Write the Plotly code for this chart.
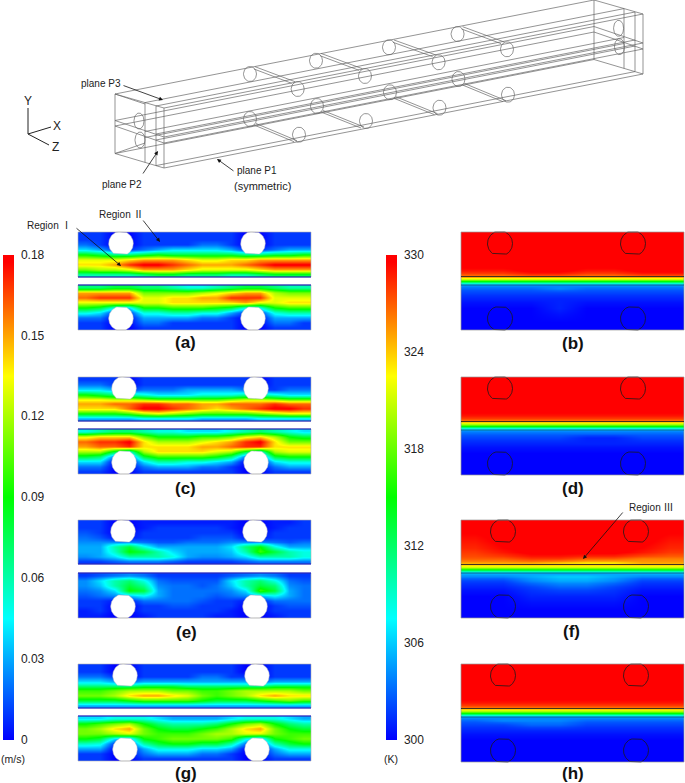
import numpy as np
import plotly.graph_objects as go

# ---- velocity fields, cm/s (rows top to bottom, 16 columns)
a_up = [[1,1,0,0,1,1,1,1,1,1,1,0,0,1,1,1],[1,1,0,0,1,1,1,1,1,1,1,0,0,1,1,1],[2,1,0,0,1,1,1,1,2,2,1,0,0,1,1,1],
        [4,3,1,1,2,3,4,4,4,4,3,1,1,2,3,3],[9,8,7,7,8,9,8,8,8,8,8,7,7,8,8,9],[13,13,13,14,15,15,15,14,13,13,14,14,15,15,15,15],
        [14,14,15,17,18,18,17,16,15,15,15,16,17,18,18,18],[11,12,12,13,15,15,15,14,13,13,13,13,14,15,15,15],[6,6,6,6,7,8,8,7,7,7,6,6,7,8,8,8]]
a_lo = [[7,7,8,8,7,7,6,5,5,6,7,8,8,7,6,6],[15,15,15,15,11,11,11,11,12,13,14,15,15,12,11,11],[16,17,17,17,13,13,14,14,15,15,17,17,17,13,13,13],
        [13,13,13,13,13,13,14,14,14,14,14,15,13,13,14,14],[9,8,5,4,9,9,10,10,10,9,8,5,5,9,10,10],[5,4,1,1,5,5,6,6,5,5,3,1,1,5,6,6],
        [2,2,0,0,3,3,3,3,2,2,1,0,0,3,3,3],[1,1,0,0,2,2,1,1,1,1,1,0,0,2,2,1],[1,1,0,0,1,1,1,1,1,1,1,0,0,1,1,1]]
c_up = [[1,1,1,0,1,1,1,1,1,1,1,1,0,1,1,1],[2,2,1,0,1,1,1,1,1,1,1,1,0,1,1,1],[4,4,3,1,2,2,2,3,3,3,3,2,1,1,2,2],
        [9,8,7,6,5,4,4,4,5,5,5,6,6,5,4,4],[13,13,12,12,11,10,10,10,10,10,11,12,12,11,10,10],[15,15,16,16,17,17,16,16,15,15,16,16,16,17,16,16],
        [14,14,14,16,18,18,17,16,15,14,15,16,17,18,18,17],[9,9,9,10,12,13,12,11,10,10,10,10,11,12,13,13],[3,3,3,3,4,4,4,4,3,3,3,3,4,4,4,4]]
c_lo = [[5,6,7,7,6,5,5,4,4,4,5,6,7,6,5,4],[13,14,14,14,11,9,9,9,10,10,11,13,14,12,9,8],[16,17,17,18,14,12,12,12,13,14,15,17,18,14,11,11],
        [15,16,16,17,14,14,14,14,15,15,16,17,17,14,14,14],[12,12,8,5,12,14,14,14,14,13,12,8,5,12,13,13],[8,7,2,1,8,10,10,10,10,9,7,2,1,8,9,9],
        [4,4,0,0,4,6,6,5,5,4,3,0,0,4,5,5],[2,2,0,0,2,3,3,3,2,2,1,0,0,2,3,3],[1,1,0,0,1,1,1,1,1,1,1,0,0,1,1,1]]
e_up = [[1,1,0,0,.5,.5,.5,.5,.5,.5,.5,0,0,.5,.5,1],[1,1,0,0,.5,1,1,1,1,1,.5,0,0,.5,1,1],[1.5,1,0,0,1,1,1,1,1,1,1,0,0,1,1,1],
        [2,1.5,.5,.5,1,1,1,1,1.5,1.5,1.5,.5,.5,1,1,1],[2.5,2.5,2.5,2.5,2,1.5,1.5,2,2,2,2.5,2.5,2.5,2,1.5,2],[3,3,6,8,5,3,3,3,3,3,4,7,9,5,3,3],
        [3,3,5.5,9,8,6,4,3,3,3,3.5,6,10,8,6,5],[2.5,3,4,6,6,6,5,3,2.5,2.5,3,4,6,6,6,5],[1,1,1.5,2,2,2,1.5,1,1,1,1,1.5,2,2,2,2]]
e_lo = [[1,1.5,2,2.5,2,1,1,1,1,1,1.5,2,2.5,2,1,1],[2.5,4,6,7,5,2,1.5,1.5,1.5,1.5,4,6,7,5,2,1.5],[2.5,3.5,6,8,6.5,2.5,2,2,1.5,2,3.5,6,8,7,2.5,2],
        [2,2.5,4,9,8,3,2,2,2,2,2.5,4,10,8,3,2],[1.5,2,2.5,3.5,4.5,3,2,2,2,1.5,2,2.5,3.5,4.5,3,2],[1,1,.5,.5,2,2,2,2,1.5,1,1,.5,.5,2,2,2],
        [1,1,0,0,1,1,1.5,1.5,1,1,1,0,0,1,1.5,1.5],[.5,1,0,0,1,1,1,1,1,1,.5,0,0,1,1,1],[.5,.5,0,0,.5,1,1,1,1,.5,.5,0,0,.5,1,1]]
g_up = [[1,1,0,0,1,1,1,1,1,1,1,0,0,1,1,1],[1,1,0,0,1,1,1,1,1,1,1,0,0,1,1,1],[2,2,1,0,1,1,1,1,2,2,1,1,0,1,1,1],
        [4,4,3,2,3,3,3,3,3,3,3,3,2,3,3,3],[7,7,7,7,8,8,8,7,7,7,7,7,7,8,8,8],[10,10,11,12,12,12,11,11,10,10,11,12,12,12,12,11],
        [11,11,12,14,15,15,14,13,11,10,11,12,14,15,14,14],[8,8,8,9,10,10,10,10,9,8,8,8,9,10,11,10],[3,3,3,3,3,3,3,3,3,3,3,3,3,3,3,3]]
g_lo = [[4,4,5,5,5,4,3,3,3,3,4,5,5,5,4,3],[9,10,11,12,9,7,6,6,6,7,9,11,12,9,7,6],[11,12,14,15,11,9,8,8,9,10,12,14,15,11,9,8],
        [11,11,12,13,11,10,10,10,11,12,12,13,13,11,10,10],[9,8,4,3,9,10,11,11,11,11,10,5,3,9,10,11],[5.5,5,1,1,6,8,9,9,8,8,6,2,1,6,8,9],
        [3,3,0,0,3,5,5,5,4,4,3,0,0,3,5,5],[1,1,0,0,2,3,3,3,2,2,1,0,0,2,3,3],[1,1,0,0,1,1,1,1,1,1,1,0,0,1,1,1]]

# ---- temperature fields, K (rows top to bottom, 8 columns)
b_T = [[330]*8,[330]*8,[330]*8,[329,329,330,330,329,329,330,330],[327,327,328,328,327,327,328,328],[326]*8,[324]*8,[321]*8,[315]*8,[309]*8,
       [305]*8,[304]*8,[303,303,303,304,303,303,303,303],[302,302,302,302,302,302,302,302],[301]*8,[300,300,300,301,300,300,300,300],[300]*8]
d_T = [[330]*8,[330]*8,[330]*8,[329,329,329,329,329,329,329,329],[327,327,327,327,327,327,327,327],[325]*8,[323]*8,[320]*8,[315]*8,[309]*8,
       [306]*8,[304]*8,[303,303,303,303,303,303,303,303],[302,302,302,302,301,301,302,302],[301,301,301,301,301,301,301,301],[300,300,300,300,300,300,300,300],[300]*8]
f_T = [[330]*8,[329,330,330,330,330,330,330,329],[328,329,330,330,330,330,329,328],[327,327,328,328,327,327,326,326],[325,325,325,324,323,323,325,325],
       [324]*8,[323]*8,[321]*8,[316]*8,[310]*8,[306]*8,[305]*8,[304,304,305,306,306,305,304,304],[302,302,304,305,305,304,302,302],
       [301,301,302,303,303,302,301,301],[300,300,301,301,301,301,300,300],[300]*8]
h_T = [[330]*8,[330]*8,[330]*8,[329,329,329,329,329,329,329,329],[327,327,327,327,327,327,327,327],[325]*8,[323]*8,[320]*8,[315]*8,[309]*8,
       [305]*8,[304]*8,[303,304,304,304,303,303,303,303],[302,302,303,303,302,302,302,302],[301,301,301,301,301,301,301,301],[300]*8,[300]*8]

speed_ticks = [0, 0.03, 0.06, 0.09, 0.12, 0.15, 0.18]
speed_labels = ["0", "0.03", "0.06", "0.09", "0.12", "0.15", "0.18"]
temp_ticks = [300, 306, 312, 318, 324, 330]
temp_labels = ["300", "306", "312", "318", "324", "330"]

# ---- layout of the page (pixels)
W, H = 685, 783
rainbow = [[0, "#0000ff"], [0.25, "#00ffff"], [0.5, "#00ff00"], [0.75, "#ffff00"], [0.985, "#ff0000"], [1, "#ff0000"]]
FONT = "Liberation Sans, Arial, sans-serif"
CJK = "font-family:'Noto Sans CJK SC'"

speed_panels = [(a_up, 232, 277, 121, 243.5), (a_lo, 285, 330, 121, 318.5),
                (c_up, 377, 421, 124, 388.5), (c_lo, 429, 474, 124, 462.5),
                (e_up, 520, 564, 123, 531.5), (e_lo, 573, 618, 123, 606.5),
                (g_up, 664, 708, 125, 675.5), (g_lo, 716, 761, 125, 749.5)]
speed_left, speed_right, pitch = 78, 311, 132
speed_flats = {243.5: (232, 254), 318.5: (307, 330), 388.5: (377, 399), 462.5: (451, 474),
               531.5: (520, 542), 606.5: (595, 618), 675.5: (664, 686), 749.5: (738, 761)}
wall_lines = {"dark": [(277, "#0000b0"), (285, "#0000b0"), (421, "#0000b0"), (429, "#0000b0"),
                       (564, "#0000c0"), (573, "#0000c0"), (708, "#0000c0"), (716, "#0000c0")]}

temp_panels = [(b_T, 232, 500), (d_T, 377, 500), (f_T, 520, 503), (h_T, 664, 503)]
temp_left, temp_right = 461, 684
temp_edges = [0, 14, 28, 36, 41, 43.5, 44.5, 46, 48, 50, 52, 53, 55, 58, 63, 70, 82, 98]

fig = go.Figure()

def cyl(cx, cy, lo, hi, r=12.3):
    t = np.linspace(0, 2 * np.pi, 80)
    return cx + r * np.cos(t), np.clip(cy + r * np.sin(t), lo, hi)

for grid, top, bot, cx, cy in speed_panels:
    g = np.array(grid, float) / 100
    xe = np.linspace(speed_left, speed_right, g.shape[1] + 1)
    ye = np.linspace(top, bot, g.shape[0] + 1)
    fig.add_trace(go.Heatmap(z=g, x=xe, y=ye, zsmooth="best", coloraxis="coloraxis", hoverinfo="skip"))

for grid, top, cx in temp_panels:
    g = np.array(grid, float)
    xe = np.linspace(temp_left, temp_right, g.shape[1] + 1)
    ye = top + np.array(temp_edges, float)
    fig.add_trace(go.Heatmap(z=g, x=xe, y=ye, zsmooth="best", coloraxis="coloraxis2", hoverinfo="skip"))

# cylinders in the velocity panels (white) and temperature panels (outlined)
for grid, top, bot, cx, cy in speed_panels:
    lo, hi = speed_flats[cy]
    for k in (0, 1):
        x, y = cyl(cx + k * pitch, cy, lo, hi)
        fig.add_trace(go.Scatter(x=x, y=y, mode="lines", fill="toself", fillcolor="white",
                                 line=dict(color="#bbbbbb", width=0.5), hoverinfo="skip", showlegend=False))
for grid, top, cx in temp_panels:
    for cy, lo, hi in ((top + 11.5, top, top + 22), (top + 86.5, top + 75, top + 98)):
        for k in (0, 1):
            x, y = cyl(cx + k * 133, cy, lo, hi, r=12.5)
            fig.add_trace(go.Scatter(x=x, y=y, mode="lines", line=dict(color="#1a1a1a", width=0.8),
                                     hoverinfo="skip", showlegend=False))

# ---- wireframe of the channel
depth = (479, -94)
long_starts = [(115, 94), (115, 120.5), (115, 126), (115, 153.5),
               (145, 102.6), (145, 131.5), (145, 137.5),
               (156, 106), (156, 134), (156, 140), (156, 165.6),
               (164, 108), (164, 137), (164, 143), (164, 168)]
faces = [[(115, 94), (164, 108), (164, 168), (115, 153.5), (115, 94)],
         [(115, 120.5), (164, 137)], [(115, 126), (164, 143)],
         [(145, 102.6), (145, 162.4)], [(156, 106), (156, 165.6)]]
wx, wy = [], []
for px, py in long_starts:
    wx += [px, px + depth[0], None]
    wy += [py, py + depth[1], None]
for f in faces:
    for shifted in (0, 1):
        wx += [p[0] + shifted * depth[0] for p in f] + [None]
        wy += [p[1] + shifted * depth[1] for p in f] + [None]
wx += [115, 145, None, 145, 115, None]
wy += [153.5, 143, None, 104, 94, None]

top_pairs = [((250, 74), (297.7, 89)), ((316, 60.7), (365, 76)), ((389, 47.3), (438.6, 62.3)), ((457.6, 34), (507, 49.3))]
bot_pairs = [((250, 119), (299, 134.7)), ((317, 106), (366, 121)), ((390, 92.3), (439.5, 107.7)), ((458.5, 79), (508, 94.7))]
end_holes = [(139, 121), (140, 140), (618.6, 28.3), (619.5, 46.7)]

for c1, c2 in top_pairs:
    wx += [c1[0] + 5, c2[0] - 2.7, None, c1[0] + 4, c2[0] - 6, None]
    wy += [c1[1] - 7.3, c2[1] - 7.3, None, c1[1] - 5, c2[1] - 5.7, None]
for c1, c2 in bot_pairs:
    wx += [c1[0] + 4, c2[0] - 5, None, c1[0] + 6, c2[0] - 2, None]
    wy += [c1[1] + 6, c2[1] + 7, None, c1[1] + 4.5, c2[1] + 6, None]
t = np.linspace(0, 2 * np.pi, 40)
for c1, c2 in top_pairs + bot_pairs:
    for c in (c1, c2):
        wx += list(c[0] + 6.5 * np.cos(t)) + [None]
        wy += list(c[1] + 7.5 * np.sin(t)) + [None]
for c in end_holes:
    wx += list(c[0] + 5 * np.cos(t)) + [None]
    wy += list(c[1] + 8 * np.sin(t)) + [None]
fig.add_trace(go.Scatter(x=wx, y=wy, mode="lines", line=dict(color="#666666", width=0.7),
                         hoverinfo="skip", showlegend=False))

# ---- coordinate triad
fig.add_trace(go.Scatter(x=[28, 28, None, 28, 51, None, 28, 49], y=[108, 134, None, 134, 127, None, 134, 145],
                         mode="lines", line=dict(color="#222222", width=1), hoverinfo="skip", showlegend=False))

# ---- borders and interface lines
shapes = []
for grid, top, bot, cx, cy in speed_panels:
    shapes.append(dict(type="rect", xref="x", yref="y", x0=speed_left, x1=speed_right, y0=top, y1=bot,
                       line=dict(color="#b0b0b0", width=0.6)))
for y, colour in wall_lines["dark"]:
    shapes.append(dict(type="line", xref="x", yref="y", x0=speed_left, x1=speed_right, y0=y, y1=y,
                       line=dict(color=colour, width=1)))
for grid, top, cx in temp_panels:
    shapes.append(dict(type="rect", xref="x", yref="y", x0=temp_left, x1=temp_right, y0=top, y1=top + 98,
                       line=dict(color="#999999", width=0.7)))
    shapes.append(dict(type="line", xref="x", yref="y", x0=temp_left, x1=temp_right, y0=top + 44.5, y1=top + 44.5,
                       line=dict(color="#403020", width=1)))
    shapes.append(dict(type="line", xref="x", yref="y", x0=temp_left, x1=temp_right, y0=top + 53, y1=top + 53,
                       line=dict(color="#0b5a8f", width=1)))

# ---- text
def label(x, y, s, size=10, bold=False, color="#222222"):
    return dict(x=x, y=y, xref="x", yref="y", text=f"<b>{s}</b>" if bold else s, showarrow=False,
                xanchor="center", yanchor="middle", font=dict(family=FONT, size=size, color=color))

def arrow(x0, y0, x1, y1):
    return dict(x=x1, y=y1, ax=x0, ay=y0, xref="x", yref="y", axref="x", ayref="y", text="", showarrow=True,
                arrowhead=2, arrowsize=1, arrowwidth=0.8, arrowcolor="#111111")

annots = [label(101, 83.5, "plane P3"), label(122, 184.5, "plane P2"), label(257, 170, "plane P1"),
          label(262.5, 185.5, "(symmetric)", 11),
          label(28, 101, "Y", 12), label(57, 126, "X", 12), label(55.5, 146.5, "Z", 12),
          label(49, 224, f'Region <span style="{CJK}">Ⅰ</span>'),
          label(120.5, 213, f'Region <span style="{CJK}">Ⅱ</span>'),
          label(651, 506, f'Region <span style="{CJK}">Ⅲ</span>'),
          label(13, 759, "(m/s)", 10.5), label(391, 759, "(K)", 10.5),
          arrow(122, 85, 163, 100), arrow(142, 175, 158, 151), arrow(235, 172, 217, 159),
          arrow(75, 227, 121, 266), arrow(142, 219, 160, 242), arrow(624, 511, 583, 559)]
for s, x, y in [("(a)", 185, 342), ("(c)", 185, 488), ("(e)", 186, 632), ("(g)", 186, 773),
                ("(b)", 573, 343), ("(d)", 573, 488), ("(f)", 571, 631), ("(h)", 573, 773)]:
    annots.append(label(x, y, s, 17, True, "#111111"))

def cbar(x, vals, text):
    return dict(x=x / W, xanchor="left", xpad=0, ypad=0, y=1 - 254.5 / H, yanchor="top",
                lenmode="pixels", len=484.5, thicknessmode="pixels", thickness=11, outlinewidth=0,
                borderwidth=0, tickmode="array", tickvals=vals, ticktext=text, ticks="outside",
                ticklen=5, tickcolor="rgba(255,255,255,0)", tickfont=dict(family=FONT, size=12, color="#222222"))

fig.update_layout(
    width=W, height=H, margin=dict(l=0, r=0, t=0, b=0, autoexpand=False),
    paper_bgcolor="white", plot_bgcolor="white", showlegend=False,
    xaxis=dict(range=[0, W], visible=False, domain=[0, 1], fixedrange=True),
    yaxis=dict(range=[H, 0], visible=False, domain=[0, 1], fixedrange=True),
    coloraxis=dict(colorscale=rainbow, cmin=0, cmax=0.18, colorbar=cbar(3, speed_ticks, speed_labels)),
    coloraxis2=dict(colorscale=rainbow, cmin=300, cmax=330, colorbar=cbar(386, temp_ticks, temp_labels)),
    shapes=shapes, annotations=annots,
)
fig.write_html("out.html", config={"displayModeBar": False},
               post_script="document.body.style.margin='0';document.documentElement.style.overflow='hidden';")
